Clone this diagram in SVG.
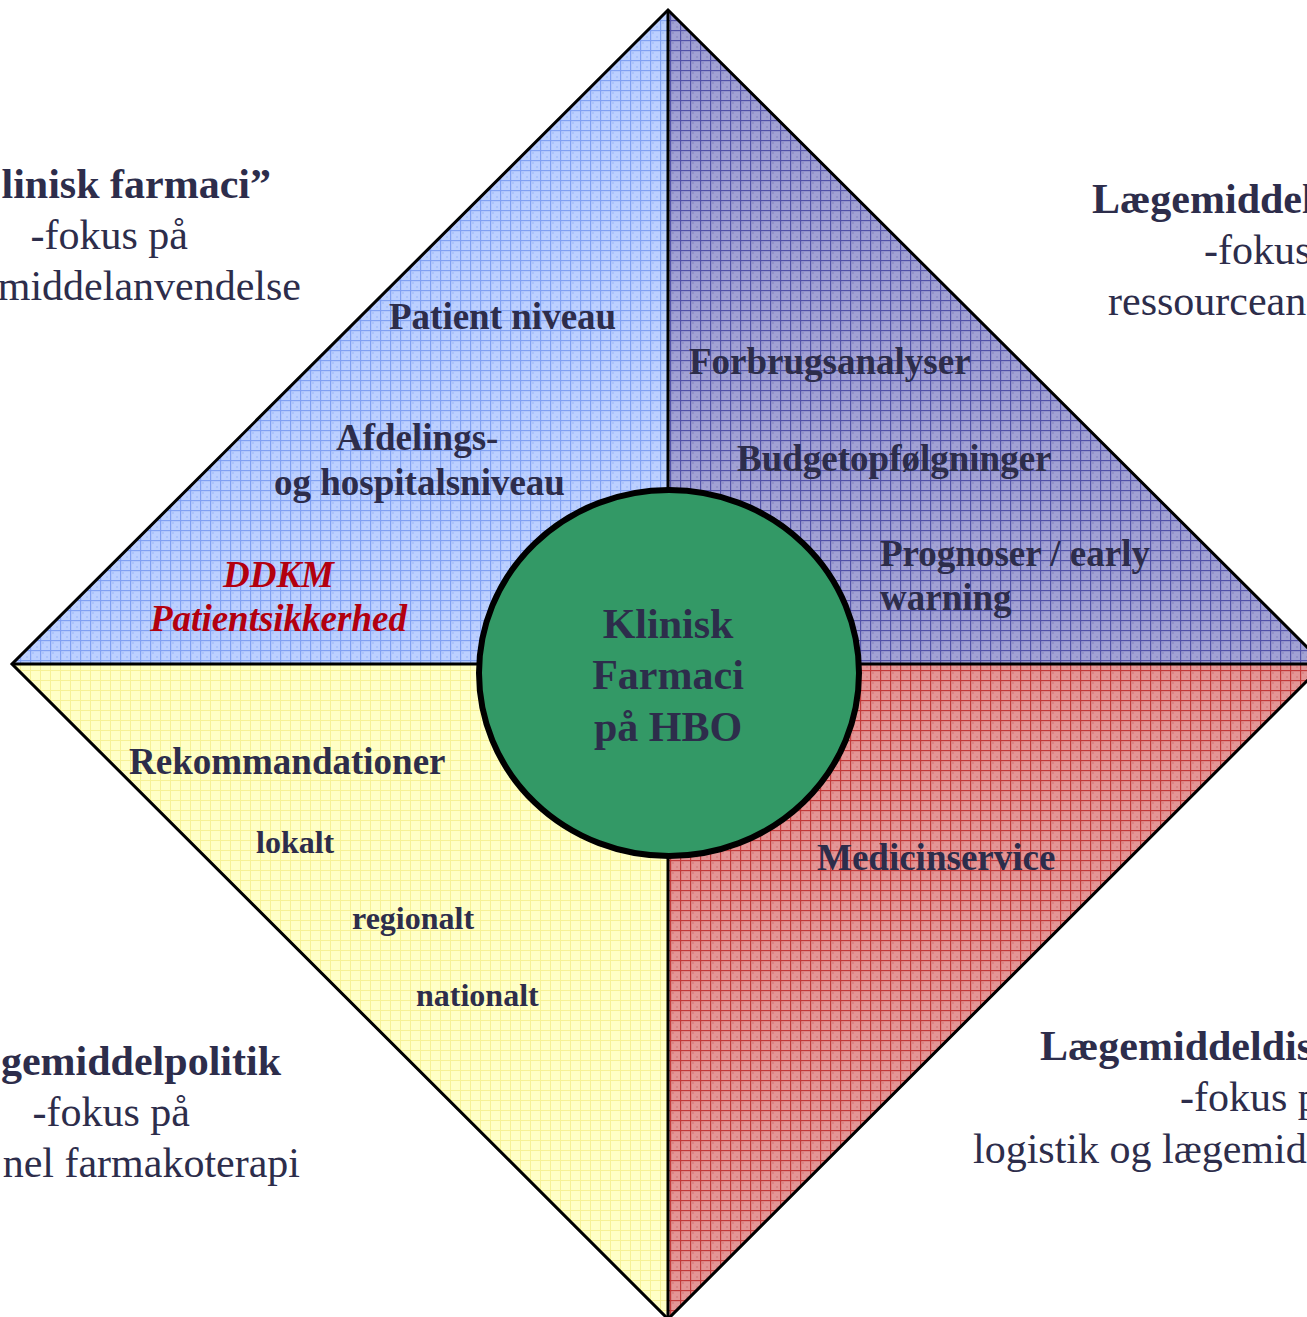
<svg xmlns="http://www.w3.org/2000/svg" width="1307" height="1317" viewBox="0 0 1307 1317">
<defs>
<pattern id="pBlue" patternUnits="userSpaceOnUse" width="10" height="10">
<rect width="10" height="10" fill="#bcd0ff"/>
<rect x="2" y="2" width="2" height="2" fill="#abc3fb"/><rect x="6" y="6" width="2" height="2" fill="#abc3fb"/>
<rect width="10" height="1.2" fill="#80a0f2"/><rect width="1.2" height="10" fill="#80a0f2"/>
</pattern>
<pattern id="pPurple" patternUnits="userSpaceOnUse" width="10" height="10">
<rect width="10" height="10" fill="#a2a2d4"/>
<rect x="2" y="2" width="2" height="2" fill="#9393c8"/><rect x="6" y="6" width="2" height="2" fill="#9393c8"/>
<rect width="10" height="1.2" fill="#5252a8"/><rect width="1.2" height="10" fill="#5252a8"/>
</pattern>
<pattern id="pYellow" patternUnits="userSpaceOnUse" width="10" height="10">
<rect width="10" height="10" fill="#ffffc6"/>
<rect width="10" height="1" fill="#f6f196"/><rect width="1" height="10" fill="#f6f196"/>
</pattern>
<pattern id="pRed" patternUnits="userSpaceOnUse" width="10" height="10">
<rect width="10" height="10" fill="#e49696"/>
<rect x="2" y="2" width="2" height="2" fill="#da8686"/><rect x="6" y="6" width="2" height="2" fill="#da8686"/>
<rect width="10" height="1.2" fill="#c23a3a"/><rect width="1.2" height="10" fill="#c23a3a"/>
</pattern>
</defs>
<style>
.t{font-family:"Liberation Serif","Times New Roman",serif;fill:#2d2d4b}
.b{font-weight:bold}
.in{font-size:37px;font-weight:bold}
.sm{font-size:32px;font-weight:bold}
.out{font-size:42px}
.red{fill:#b3000f;font-style:italic;font-weight:bold;font-size:37px}
.ctr{font-size:42px;font-weight:bold;text-anchor:middle}
</style>
<rect width="1307" height="1317" fill="#ffffff"/>
<g id="quadrant-tl"><polygon points="668,10 12,664 668,664" fill="url(#pBlue)"/></g>
<g id="quadrant-tr"><polygon points="668,10 1324,664 668,664" fill="url(#pPurple)"/></g>
<g id="quadrant-bl"><polygon points="12,664 668,1319 668,664" fill="url(#pYellow)"/></g>
<g id="quadrant-br"><polygon points="1324,664 668,1319 668,664" fill="url(#pRed)"/></g>
<g id="connectors" stroke="#000" fill="none">
<polygon points="668,10 1324,664 668,1319 12,664" stroke-width="3" stroke-linejoin="miter"/>
<line x1="12" y1="664" x2="1324" y2="664" stroke-width="3"/>
<line x1="668" y1="10" x2="668" y2="1319" stroke-width="3"/>
</g>
<g id="center">
<ellipse cx="669" cy="673" rx="190" ry="183" fill="#339966" stroke="#000" stroke-width="6"/>
<text class="t ctr" x="668" y="638">Klinisk</text>
<text class="t ctr" x="668" y="689">Farmaci</text>
<text class="t ctr" x="668" y="741">på HBO</text>
</g>
<g id="tl-labels">
<text class="t in" x="389" y="329">Patient niveau</text>
<text class="t in" x="336" y="450">Afdelings-</text>
<text class="t in" x="274" y="495">og hospitalsniveau</text>
<text class="t red" x="223" y="587">DDKM</text>
<text class="t red" x="150" y="631">Patientsikkerhed</text>
</g>
<g id="tr-labels">
<text class="t in" x="689" y="374">Forbrugsanalyser</text>
<text class="t in" x="737" y="471">Budgetopfølgninger</text>
<text class="t in" x="880" y="566">Prognoser / early</text>
<text class="t in" x="880" y="610">warning</text>
</g>
<g id="bl-labels">
<text class="t in" x="129" y="774">Rekommandationer</text>
<text class="t sm" x="256" y="853">lokalt</text>
<text class="t sm" x="352" y="929">regionalt</text>
<text class="t sm" x="416" y="1006">nationalt</text>
</g>
<g id="br-labels">
<text class="t in" x="817" y="870">Medicinservice</text>
</g>
<g id="outer-tl" text-anchor="end">
<text class="t out b" x="271" y="198">linisk farmaci”</text>
<text class="t out" x="188" y="249">-fokus på</text>
<text class="t out" x="301" y="300">middelanvendelse</text>
</g>
<g id="outer-tr">
<text class="t out b" x="1092" y="213">Lægemiddel</text>
<text class="t out" x="1204" y="264">-fokus</text>
<text class="t out" x="1108" y="315">ressourcean</text>
</g>
<g id="outer-bl" text-anchor="end">
<text class="t out b" x="281" y="1075">gemiddelpolitik</text>
<text class="t out" x="190" y="1126">-fokus på</text>
<text class="t out" x="300" y="1177">nel farmakoterapi</text>
</g>
<g id="outer-br">
<text class="t out b" x="1040" y="1060">Lægemiddeldis</text>
<text class="t out" x="1180" y="1111">-fokus p</text>
<text class="t out" x="973" y="1163">logistik og lægemid</text>
</g>
</svg>
